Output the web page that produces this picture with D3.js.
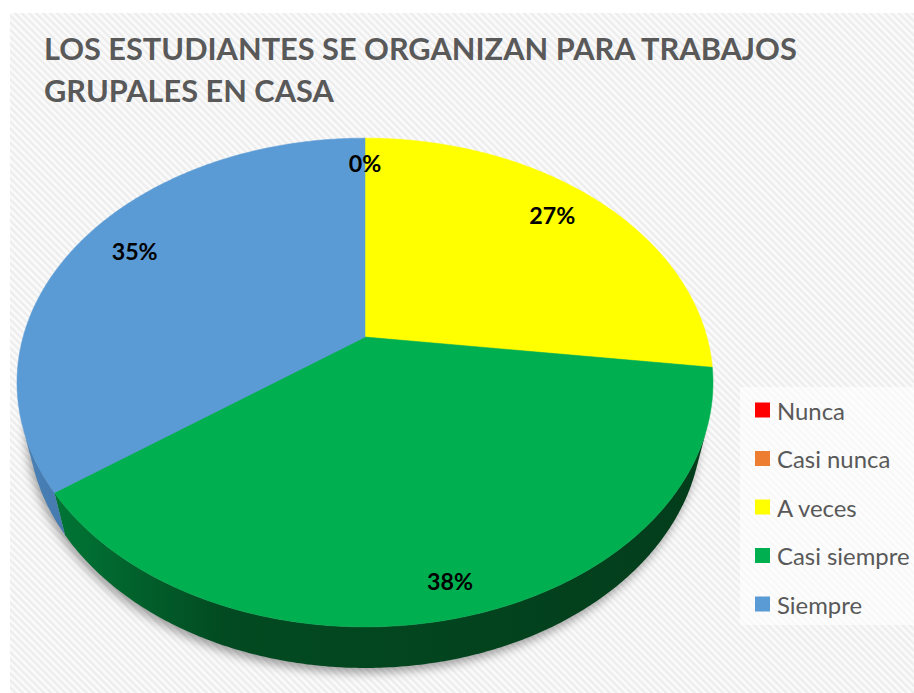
<!DOCTYPE html>
<html>
<head>
<meta charset="utf-8">
<script src="https://cdn.jsdelivr.net/npm/d3@7"></script>
<style>
  body { margin: 0; background: #fff; }
  svg { display: block; }
</style>
</head>
<body>
<script>
////////// Data //////////
const categories = ['Nunca', 'Casi nunca', 'A veces', 'Casi siempre', 'Siempre'];
const values = [0, 0, 27, 38, 35];
const colors = ['#FF0000', '#ED7D31', '#FFFF00', '#00B050', '#5B9BD5'];
const sideColors = [['#c00000', '#800000'], ['#c0602a', '#80401c'], ['#c8c800', '#8a8a00'], ['#00803a', '#033d1b'], ['#4a82b8', '#2f5a85']];
const titleLines = ['LOS ESTUDIANTES SE ORGANIZAN PARA TRABAJOS', 'GRUPALES EN CASA'];

////////// Layout //////////
const width = 914, height = 693;
const font = 'Lato, "Open Sans", sans-serif';
const textGray = '#595959';
// perspective camera fitted to the picture
const cam = { cx: 365, cy: 337, f: 1329, D: 3.887, s: 0.69, c: 0.7238, h: 0.177 };
const labelTx = 0.82, labelTy = 0.875;

const svg = d3.select('body').append('svg')
  .attr('width', width)
  .attr('height', height);

const defs = svg.append('defs');

// diagonal stripes background
const pat = defs.append('pattern')
  .attr('id', 'stripes')
  .attr('patternUnits', 'userSpaceOnUse')
  .attr('width', 5).attr('height', 5)
  .attr('patternTransform', 'rotate(-45)');
pat.append('rect').attr('width', 5).attr('height', 5).attr('fill', '#fbfbfb');
pat.append('rect').attr('width', 2.4).attr('height', 5).attr('fill', '#ededed');

const blur = defs.append('filter').attr('id', 'shadowBlur')
  .attr('x', '-20%').attr('y', '-20%').attr('width', '140%').attr('height', '140%');
blur.append('feGaussianBlur').attr('stdDeviation', 5);

svg.append('rect')
  .attr('x', 10).attr('y', 13)
  .attr('width', width - 10).attr('height', height - 13)
  .attr('fill', 'url(#stripes)');

// measure helper
const measure = (txt, size, weight) => {
  const t = svg.append('text').style('font', `${weight} ${size}px ${font}`).text(txt);
  const w = t.node().getComputedTextLength();
  t.remove();
  return w;
};

////////// Title //////////
const titleSize = 30 * 753 / measure(titleLines[0], 30, 'bold');
svg.append('g')
  .selectAll('text')
  .data(titleLines)
  .enter().append('text')
    .attr('x', 44)
    .attr('y', (d, i) => 60 + i * 42)
    .attr('fill', textGray)
    .style('font', `bold ${titleSize}px ${font}`)
    .text(d => d);

////////// 3D pie //////////
const proj = (theta, r, z) => {
  const x = r * Math.sin(theta), y = -r * Math.cos(theta);
  const Z = cam.D - cam.c * y - cam.s * z;
  return [cam.cx + cam.f * x / Z, cam.cy + cam.f * (cam.s * y - cam.c * z) / Z];
};
const arcPoints = (a0, a1, z) => {
  const n = Math.max(2, Math.ceil(Math.abs(a1 - a0) / 0.01));
  return d3.range(n + 1).map(i => proj(a0 + (a1 - a0) * i / n, 1, z));
};
const line = d3.line();

const pie = d3.pie().sort(null).value(d => d)(values);

// shadow
const bottom = arcPoints(0, 2 * Math.PI, -cam.h);
svg.append('path')
  .attr('d', line(bottom) + 'Z')
  .attr('transform', 'translate(-2, 5)')
  .attr('fill', 'rgba(0,0,0,0.35)')
  .attr('filter', 'url(#shadowBlur)');

// outer wall
const vis0 = Math.acos(-1 / (cam.D * cam.c));
const vis1 = 2 * Math.PI - vis0;
const xScale = d3.scaleLinear().domain([0, 1]).range([cam.cx - 350, cam.cx + 350]);
pie.forEach((p, i) => {
  const lo = Math.max(p.startAngle, vis0), hi = Math.min(p.endAngle, vis1);
  if (hi <= lo) return;
  const g = defs.append('linearGradient')
    .attr('id', `side${i}`)
    .attr('gradientUnits', 'userSpaceOnUse')
    .attr('x1', xScale(0)).attr('x2', xScale(1)).attr('y1', 0).attr('y2', 0);
  g.append('stop').attr('offset', '0%').attr('stop-color', sideColors[i][0]);
  g.append('stop').attr('offset', '30%').attr('stop-color', d3.interpolateRgb(sideColors[i][0], sideColors[i][1])(0.8));
  g.append('stop').attr('offset', '100%').attr('stop-color', sideColors[i][1]);
  const pts = arcPoints(lo, hi, 0).concat(arcPoints(hi, lo, -cam.h));
  svg.append('path')
    .attr('d', line(pts) + 'Z')
    .attr('fill', `url(#side${i})`);
});

// top faces
const apex = proj(0, 0, 0);
svg.append('g')
  .selectAll('path')
  .data(pie.filter(p => p.endAngle > p.startAngle))
  .enter().append('path')
    .attr('d', p => line([apex].concat(arcPoints(p.startAngle, p.endAngle, 0))) + 'Z')
    .attr('fill', p => colors[p.index])
    .attr('stroke', p => colors[p.index])
    .attr('stroke-width', 0.5);

// data labels
const labelSize = 20 * 46 / measure('27%', 20, 'bold');
const pct = d3.format('.0%');
const total = d3.sum(values);
const rimOf = p => proj((p.startAngle + p.endAngle) / 2, 1, 0);
svg.append('g')
  .selectAll('text')
  .data(pie.filter(p => p.index >= 1))
  .enter().append('text')
    .attr('x', p => apex[0] + (rimOf(p)[0] - apex[0]) * labelTx)
    .attr('y', p => apex[1] + (rimOf(p)[1] - apex[1]) * labelTy)
    .attr('text-anchor', 'middle')
    .attr('dominant-baseline', 'central')
    .attr('fill', '#000')
    .style('font', `bold ${labelSize}px ${font}`)
    .text(p => pct(p.value / total));

////////// Legend //////////
svg.append('rect')
  .attr('x', 740).attr('y', 387)
  .attr('width', width - 740).attr('height', 238)
  .attr('fill', '#ffffff').attr('opacity', 0.6);

const legendSize = 20 * 68 / measure('Nunca', 20, 'normal');
const legendY = d3.scalePoint().domain(categories).range([410, 604]);
const legend = svg.append('g')
  .selectAll('g')
  .data(categories)
  .enter().append('g')
    .attr('transform', d => `translate(755, ${legendY(d)})`);
legend.append('rect')
  .attr('x', 0).attr('y', -7.5)
  .attr('width', 15).attr('height', 15)
  .attr('fill', (d, i) => colors[i]);
legend.append('text')
  .attr('x', 22)
  .attr('y', 0)
  .attr('dominant-baseline', 'central')
  .attr('fill', textGray)
  .style('font', `${legendSize}px ${font}`)
  .text(d => d);
</script>
</body>
</html>
